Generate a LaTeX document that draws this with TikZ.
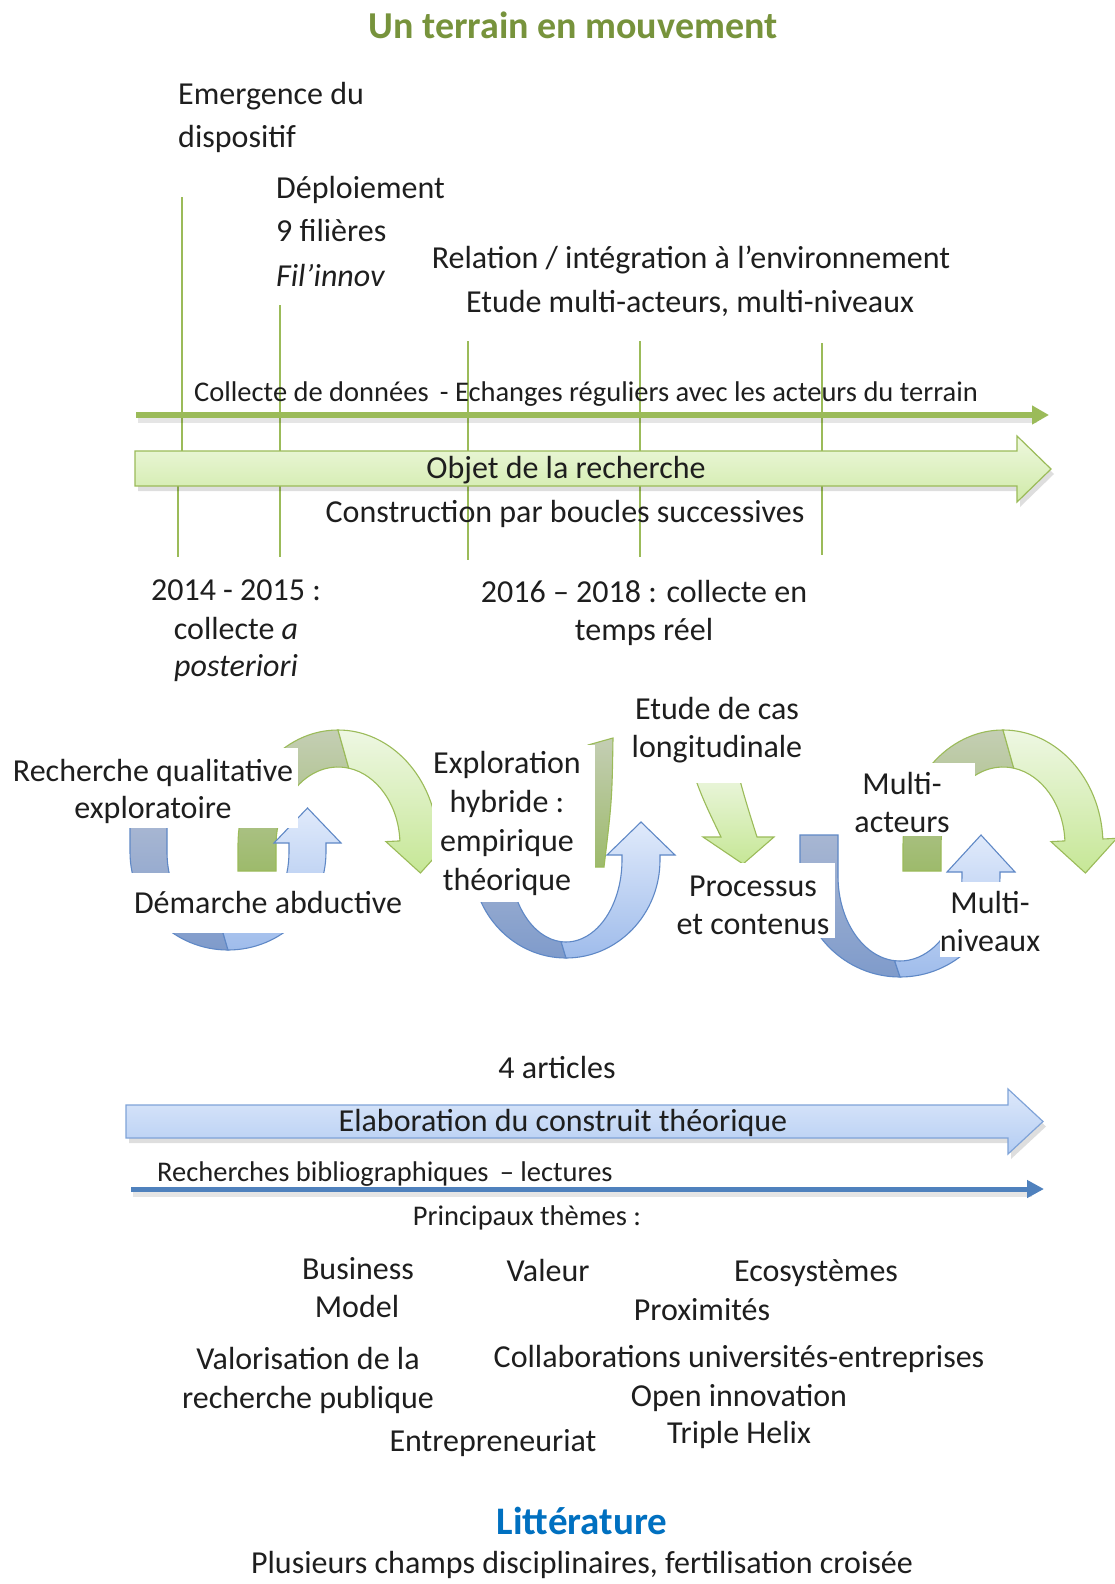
\documentclass[tikz,border=0pt]{standalone}
\usepackage{fontspec}
\setmainfont{Carlito}
\usetikzlibrary{arrows.meta,calc}
\definecolor{txt}{HTML}{1E1E1E}
\definecolor{gline}{HTML}{9BBB59}
\definecolor{bline}{HTML}{4F81BD}
\definecolor{bbord}{HTML}{5F88C6}
\definecolor{olivet}{HTML}{77933C}
\definecolor{litblue}{HTML}{0070C0}
\definecolor{gdkA}{HTML}{C4CEB4}
\definecolor{gdkB}{HTML}{9DBA6B}
\definecolor{gltA}{HTML}{EEF7E3}
\definecolor{gltB}{HTML}{C6E796}
\definecolor{bdkA}{HTML}{A7B6D2}
\definecolor{bdkB}{HTML}{7F9BCB}
\definecolor{bltA}{HTML}{E0EAFB}
\definecolor{bltB}{HTML}{9FBCEB}
\definecolor{objA}{HTML}{EEF8DF}
\definecolor{objB}{HTML}{D0EAA8}
\definecolor{elaA}{HTML}{DDE8FA}
\definecolor{elaB}{HTML}{B4CDF3}
\definecolor{elaD}{HTML}{7FA3D8}

\newcommand{\GreenArc}[1]{%
\begin{scope}[shift={(#1,845)}]
 \path[gdark] (-100,26) -- (-100,0) arc[start angle=180,end angle=270,x radius=100,y radius=115]
   -- (10.8,-76.8) arc[start angle=280,end angle=180,x radius=62,y radius=78] -- (-62,26) -- cycle;
 \path[glight] (0,-115) arc[start angle=270,end angle=357,x radius=100,y radius=115]
   -- (113.8,-6.7) -- (82.4,28) -- (47.9,-3.4) -- (61.9,-4.1)
   arc[start angle=357,end angle=280,x radius=62,y radius=78] -- cycle;
\end{scope}}

\newcommand{\BlueArc}[9]{%
\begin{scope}[shift={(#1,#2)}]
\pgfmathsetmacro{\bHc}{(#3+#5)/2}
\pgfmathsetmacro{\bHo}{#3+15}
\pgfmathsetmacro{\bHi}{#5-15}
\pgfmathsetmacro{\bSx}{#5*cos(95)}
\pgfmathsetmacro{\bSy}{#6*sin(95)}
 \path[bdark] (-#3,#7) -- (-#3,0) arc[start angle=180,end angle=90,x radius=#3,y radius=#4]
   -- (\bSx,\bSy) arc[start angle=95,end angle=180,x radius=#5,y radius=#6] -- (-#5,#7) -- cycle;
 \path[blight] (0,#4) arc[start angle=90,end angle=0,x radius=#3,y radius=#4]
   -- (#3,#8) -- (\bHo,#8) -- (\bHc,#9) -- (\bHi,#8) -- (#5,#8) -- (#5,0)
   arc[start angle=0,end angle=95,x radius=#5,y radius=#6] -- cycle;
\end{scope}}

\begin{document}
\begin{tikzpicture}[x=1pt,y=-1pt,
  lbl/.style={font=\fontsize{32}{38}\selectfont, text height=22pt, text depth=7pt, inner sep=0pt, text=txt, yshift=-4pt},
  lbls/.style={font=\fontsize{28.5}{34}\selectfont, text height=20pt, text depth=6pt, inner sep=0pt, text=txt, yshift=-3pt},
  wbox/.style={fill=white, draw=none, inner sep=0pt, outer sep=0pt},
  vline/.style={draw=gline, line width=2pt},
  gdark/.style={draw=gline, line width=1.1pt, top color=gdkA, bottom color=gdkB},
  glight/.style={draw=gline, line width=1.1pt, top color=gltA, bottom color=gltB},
  bdark/.style={draw=bbord, line width=1.1pt, top color=bdkA, bottom color=bdkB},
  blight/.style={draw=bbord, line width=1.1pt, top color=bltA, bottom color=bltB},
  shad/.style={fill=black, opacity=0.13, draw=none}
]
\useasboundingbox (0,0) rectangle (1115,1584);
\fill[white] (0,0) rectangle (1115,1584);

% ---------- title ----------
\node[font=\fontsize{38}{45}\selectfont\bfseries, text=olivet, inner sep=0pt] (title) at (573,25) {Un terrain en mouvement};

% ---------- top labels ----------
\node[lbl, anchor=west] (em1) at (178,93) {Emergence du};
\node[lbl, anchor=west] (em2) at (178,136) {dispositif};
\node[lbl, anchor=west] (dep1) at (276,187) {Déploiement};
\node[lbl, anchor=west] (dep2) at (276,230) {9 filières};
\node[lbl, anchor=west] (dep3) at (276,275) {\itshape Fil’innov};
\node[lbl] (rel) at (691,257) {Relation / intégration à l’environnement};
\node[lbl] (etm) at (690,301) {Etude multi-acteurs, multi-niveaux};

% ---------- vertical milestone lines ----------
\coordinate (v1a) at (182,197); \coordinate (v1b) at (182,470);
\coordinate (v1c) at (178,470); \coordinate (v1d) at (178,557);
\coordinate (v2a) at (280,305); \coordinate (v2b) at (280,557);
\coordinate (v3a) at (468,341); \coordinate (v3b) at (468,560);
\coordinate (v4a) at (640,341); \coordinate (v4b) at (640,557);
\coordinate (v5a) at (822,343); \coordinate (v5b) at (822,555);
\draw[vline] (v1a) -- (v1b);
\draw[vline] (v1c) -- (v1d);
\draw[vline] (v2a) -- (v2b);
\draw[vline] (v3a) -- (v3b);
\draw[vline] (v4a) -- (v4b);
\draw[vline] (v5a) -- (v5b);

% ---------- data collection arrow ----------
\coordinate (ca) at (136,415);
\coordinate (cb) at (1049,415);
\draw[line width=6pt, black, opacity=0.10] ($(ca)+(2,5)$) -- ($(cb)+(-12,5)$);
\draw[line width=6pt, gline, -{Triangle[length=17pt,width=18pt]}] (ca) -- (cb);
\node[lbls] (col) at (586,391) {Collecte de données \,- Echanges réguliers avec les acteurs du terrain};

% ---------- Objet block arrow ----------
\path[shad] (138,456) -- (1020,456) -- (1020,441) -- (1054,474) -- (1020,507) -- (1020,491) -- (138,491) -- cycle;
\path[draw=gline, line width=1.2pt, top color=objA, bottom color=objB]
  (135,451) -- (1017,451) -- (1017,436) -- (1051,469) -- (1017,502) -- (1017,486) -- (135,486) -- cycle;
\node[lbl] (obj) at (566,467) {Objet de la recherche};
\node[lbl] (cons) at (565,511) {Construction par boucles successives};

% ---------- years ----------
\node[lbl] (y1a) at (236,589) {2014 - 2015 :};
\node[lbl] (y1b) at (236,628) {collecte \textit{a}};
\node[lbl] (y1c) at (236,665) {\textit{posteriori}};
\node[lbl] (y2a) at (644,591) {2016 – 2018 : collecte en};
\node[lbl] (y2b) at (644,629) {temps réel};

% ---------- curved arrows ----------
\GreenArc{338}
\GreenArc{1003}
% second green arrow (visible parts)
\path[gdark] (588,745) -- (613,738) .. controls (612,800) .. (604,867) -- (588,867) -- cycle;
\path[glight] (692,768) .. controls (700,795) and (712,818) .. (721,837) -- (703,837) -- (743,864)
  -- (774,837) -- (757,837) .. controls (750,815) and (742,790) .. (737,768) -- cycle;

\BlueArc{228}{852}{98}{98}{61}{80}{-26}{-9}{-44}
\BlueArc{566}{860}{94}{98}{56}{82}{-25}{-5}{-38}
\BlueArc{900}{876}{100}{101}{62}{85}{-41}{-4}{-41}

% ---------- text boxes ----------
\node[wbox, minimum width=288pt, minimum height=80pt] (bxR) at (154,788) {};
\node[wbox, minimum width=273pt, minimum height=60pt] (bxD) at (266.5,903) {};
\node[wbox, minimum width=163pt, minimum height=157pt] (bxE) at (513.5,823.5) {};
\node[wbox, minimum width=186pt, minimum height=93pt] (bxL) at (715,736.5) {};
\node[wbox, minimum width=162pt, minimum height=75pt] (bxP) at (754,900.5) {};
\node[wbox, minimum width=123pt, minimum height=73pt] (bxA) at (913.5,799.5) {};
\node[wbox, minimum width=100pt, minimum height=75pt] (bxN) at (990,919.5) {};

\node[lbl] (rq1) at (153,770) {Recherche qualitative};
\node[lbl] (rq2) at (153,807) {exploratoire};
\node[lbl] (dab) at (268,902) {Démarche abductive};
\node[lbl] (ex1) at (507,762) {Exploration};
\node[lbl] (ex2) at (507,801) {hybride :};
\node[lbl] (ex3) at (507,840) {empirique};
\node[lbl] (ex4) at (507,879) {théorique};
\node[lbl] (ec1) at (717,708) {Etude de cas};
\node[lbl] (ec2) at (717,746) {longitudinale};
\node[lbl] (pc1) at (753,885) {Processus};
\node[lbl] (pc2) at (753,923) {et contenus};
\node[lbl] (ma1) at (902,783) {Multi-};
\node[lbl] (ma2) at (902,821) {acteurs};
\node[lbl] (mn1) at (990,902) {Multi-};
\node[lbl] (mn2) at (990,940) {niveaux};

% ---------- theory construction ----------
\node[lbl] (art) at (557,1067) {4 articles};
\path[shad] (129,1110) -- (1011,1110) -- (1011,1094) -- (1046,1126.5) -- (1011,1159) -- (1011,1143) -- (129,1143) -- cycle;
\path[draw=elaD, line width=1.2pt, top color=elaA, bottom color=elaB]
  (126,1105) -- (1008,1105) -- (1008,1089) -- (1043,1121.5) -- (1008,1154) -- (1008,1138) -- (126,1138) -- cycle;
\node[lbl] (ela) at (563,1120) {Elaboration du construit théorique};

\coordinate (ba) at (131,1189);
\coordinate (bb) at (1044,1189);
\draw[line width=5pt, black, opacity=0.10] ($(ba)+(2,5)$) -- ($(bb)+(-12,5)$);
\draw[line width=5pt, bline, -{Triangle[length=17pt,width=17pt]}] (ba) -- (bb);
\node[lbls, anchor=west] (bib) at (157,1171) {Recherches bibliographiques \,– lectures};
\node[lbls] (pth) at (527,1215) {Principaux thèmes :};

% ---------- themes ----------
\node[lbl] (t1a) at (358,1268) {Business};
\node[lbl] (t1b) at (357,1306) {Model};
\node[lbl] (t2) at (548,1270) {Valeur};
\node[lbl] (t3) at (816,1270) {Ecosystèmes};
\node[lbl] (t4) at (702,1309) {Proximités};
\node[lbl] (t5a) at (308,1358) {Valorisation de la};
\node[lbl] (t5b) at (308,1397) {recherche publique};
\node[lbl] (t6) at (739,1356) {Collaborations universités-entreprises};
\node[lbl] (t7) at (739,1395) {Open innovation};
\node[lbl] (t8) at (739,1432) {Triple Helix};
\node[lbl] (t9) at (493,1440) {Entrepreneuriat};

\node[font=\fontsize{39}{46}\selectfont\bfseries, text=litblue, inner sep=0pt, yshift=-3pt] (lit) at (582,1518) {Littérature};
\node[lbl, yshift=4pt] (plu) at (582,1566) {Plusieurs champs disciplinaires, fertilisation croisée};
\end{tikzpicture}
\end{document}
